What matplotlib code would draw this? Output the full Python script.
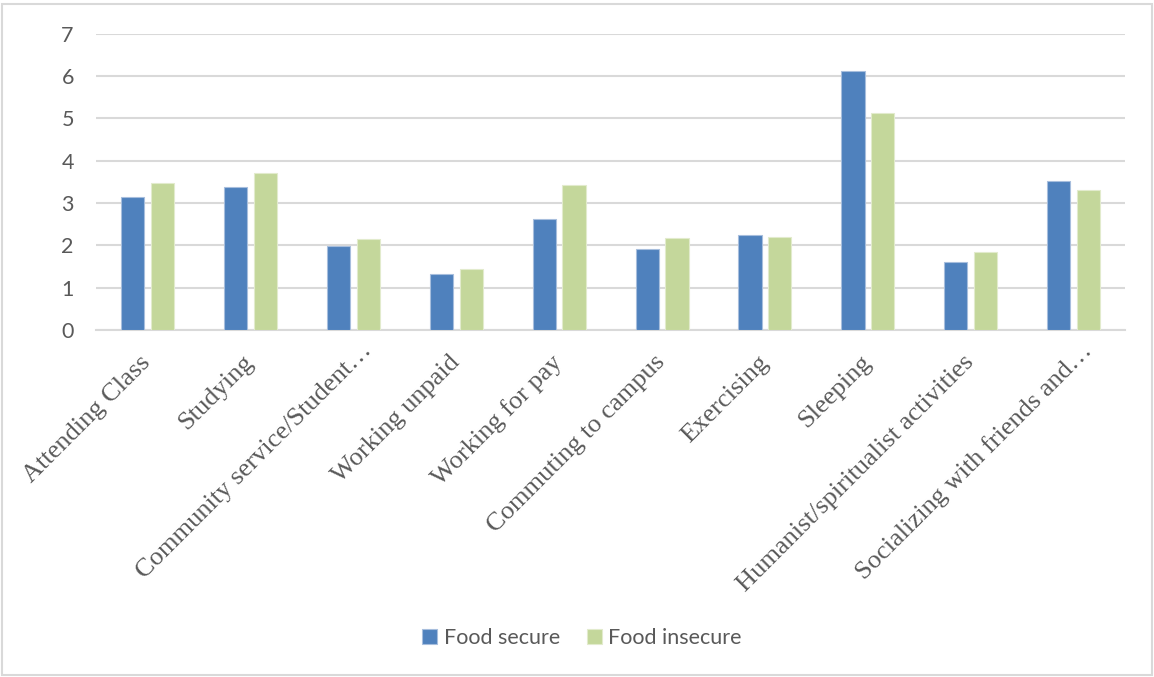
import numpy as np
import matplotlib
matplotlib.use("Agg")
import matplotlib.pyplot as plt
import matplotlib.transforms as mtransforms
from matplotlib.patches import Rectangle

# hours per day by activity
categories = [
    "Attending Class", "Studying", "Community service/Student\u2026",
    "Working unpaid", "Working for pay", "Commuting to campus",
    "Exercising", "Sleeping", "Humanist/spiritualist activities",
    "Socializing with friends and\u2026",
]
food_secure = [3.15, 3.38, 1.98, 1.31, 2.63, 1.92, 2.24, 6.12, 1.61, 3.52]
food_insecure = [3.46, 3.70, 2.14, 1.45, 3.43, 2.17, 2.20, 5.13, 1.83, 3.31]
y_ticks = [0, 1, 2, 3, 4, 5, 6, 7]

BLUE = "#4F81BD"
GREEN = "#C4D79B"
GRID = "#D9D9D9"

fig = plt.figure(figsize=(11.54, 6.77), dpi=100)
ax = fig.add_axes([0.0832, 0.5126, 0.8918, 0.4379])

x = np.arange(len(categories))
w = 0.225
ax.bar(x - 0.145, food_secure, width=w, color=BLUE, edgecolor="#A7BEDD",
       linewidth=0.8, label="Food secure", zorder=3)
ax.bar(x + 0.145, food_insecure, width=w, color=GREEN, edgecolor="#E2EBCD",
       linewidth=0.8, label="Food insecure", zorder=3)

ax.set_xlim(-0.5, len(categories) - 0.5)
ax.set_ylim(0, 7)
ax.set_yticks(y_ticks)
ax.grid(axis="y", color=GRID, linewidth=1.5, zorder=0)
ax.set_axisbelow(True)
for s in ["top", "right", "left"]:
    ax.spines[s].set_visible(False)
ax.spines["bottom"].set_color(GRID)
ax.spines["bottom"].set_linewidth(1.5)

ax.tick_params(axis="y", length=0, pad=16, labelsize=15.5, labelcolor="#595959")
for lab in ax.get_yticklabels():
    lab.set_fontfamily("Lato")

ax.set_xticks(x)
ax.set_xticklabels(categories, rotation=45, ha="right", va="center",
                   rotation_mode="anchor", fontsize=19,
                   family="Liberation Serif", color="#595959")
ax.tick_params(axis="x", length=0, pad=21)

# truncated labels sit a bit further along their baseline in the original
shift = mtransforms.ScaledTranslation(0.15, 0.12, fig.dpi_scale_trans)
for lab in ax.get_xticklabels():
    if lab.get_text().endswith("\u2026"):
        lab.set_transform(lab.get_transform() + shift)

leg = fig.legend(loc="center", bbox_to_anchor=(582 / 1154, 1 - 638 / 677), ncol=2,
                 frameon=False, prop={"family": "Lato", "size": 15.5},
                 handlelength=0.7, handleheight=0.7, handletextpad=0.3,
                 columnspacing=1.25)
for t in leg.get_texts():
    t.set_color("#595959")

fig.patches.append(Rectangle((0.002, 0.003), 0.996, 0.991, transform=fig.transFigure,
                             fill=False, edgecolor=GRID, linewidth=1.5))

fig.savefig("out.png", dpi=100)
